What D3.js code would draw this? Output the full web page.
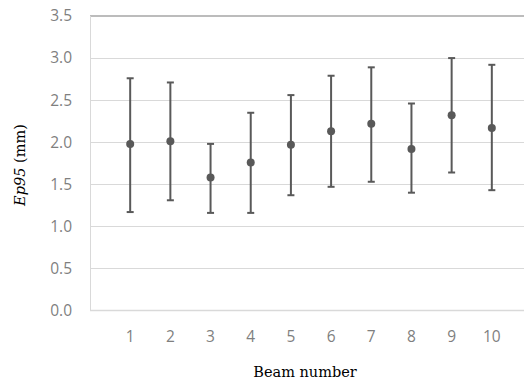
<!DOCTYPE html>
<html>
<head>
<meta charset="utf-8">
<script src="https://cdn.jsdelivr.net/npm/d3@7"></script>
<style>
  body { margin: 0; background: #fff; }
  svg { display: block; }
</style>
</head>
<body>
<div id="chart"></div>
<script>
// beam numbers and Ep95 values (mm)
var beams = [1, 2, 3, 4, 5, 6, 7, 8, 9, 10];
var means = [1.98, 2.01, 1.58, 1.76, 1.97, 2.13, 2.22, 1.92, 2.32, 2.17];
var upper = [2.76, 2.71, 1.98, 2.35, 2.56, 2.79, 2.89, 2.46, 3.00, 2.92];
var lower = [1.17, 1.31, 1.16, 1.16, 1.37, 1.47, 1.53, 1.40, 1.64, 1.43];
var yTicks = [0, 0.5, 1, 1.5, 2, 2.5, 3, 3.5];

var width = 524, height = 383;
var svg = d3.select("#chart").append("svg")
    .attr("width", width)
    .attr("height", height);

// x is a linear scale so that beam 0 sits on the left axis line
var x = d3.scaleLinear().domain([0, 11]).range([90, 532]);
var y = d3.scaleLinear().domain([0, 3.5]).range([310.5, 16]);

// horizontal gridlines
svg.append("g").selectAll("line")
    .data(yTicks.filter(function(d) { return d > 0 && d < 3.5; }))
    .enter().append("line")
    .attr("x1", 90).attr("x2", width)
    .attr("y1", function(d) { return Math.round(y(d)) + 0.5; })
    .attr("y2", function(d) { return Math.round(y(d)) + 0.5; })
    .attr("stroke", "#d9d9d9").attr("stroke-width", 1);

// top border (darker), left and bottom axis lines
svg.append("line")
    .attr("x1", 90).attr("x2", width)
    .attr("y1", y(3.5)).attr("y2", y(3.5))
    .attr("stroke", "#a6a6a6").attr("stroke-width", 1.5);
svg.append("line")
    .attr("x1", 90.5).attr("x2", 90.5)
    .attr("y1", y(3.5)).attr("y2", y(0))
    .attr("stroke", "#d9d9d9").attr("stroke-width", 1);
svg.append("line")
    .attr("x1", 90).attr("x2", width)
    .attr("y1", y(0)).attr("y2", y(0))
    .attr("stroke", "#d9d9d9").attr("stroke-width", 1.5);

// y tick labels
svg.append("g").selectAll("text")
    .data(yTicks).enter().append("text")
    .attr("x", 72)
    .attr("y", function(d) { return y(d); })
    .attr("dy", "0.35em")
    .attr("text-anchor", "end")
    .attr("font-family", "Open Sans, sans-serif")
    .attr("font-size", 15.5)
    .attr("fill", "#7f7f7f")
    .text(function(d) { return d3.format(".1f")(d); });

// x tick labels
svg.append("g").selectAll("text")
    .data(beams).enter().append("text")
    .attr("x", function(d) { return x(d); })
    .attr("y", 337)
    .attr("dy", "0.35em")
    .attr("text-anchor", "middle")
    .attr("font-family", "Open Sans, sans-serif")
    .attr("font-size", 15.5)
    .attr("fill", "#7f7f7f")
    .text(function(d) { return d; });

// error bars
var bars = svg.append("g").selectAll("g")
    .data(beams).enter().append("g");
bars.append("line")
    .attr("x1", function(d) { return x(d); })
    .attr("x2", function(d) { return x(d); })
    .attr("y1", function(d, i) { return y(upper[i]); })
    .attr("y2", function(d, i) { return y(lower[i]); })
    .attr("stroke", "#595959").attr("stroke-width", 2);
bars.append("line")
    .attr("x1", function(d) { return x(d) - 3.5; })
    .attr("x2", function(d) { return x(d) + 3.5; })
    .attr("y1", function(d, i) { return y(upper[i]); })
    .attr("y2", function(d, i) { return y(upper[i]); })
    .attr("stroke", "#595959").attr("stroke-width", 2);
bars.append("line")
    .attr("x1", function(d) { return x(d) - 3.5; })
    .attr("x2", function(d) { return x(d) + 3.5; })
    .attr("y1", function(d, i) { return y(lower[i]); })
    .attr("y2", function(d, i) { return y(lower[i]); })
    .attr("stroke", "#595959").attr("stroke-width", 2);

// mean markers
bars.append("circle")
    .attr("cx", function(d) { return x(d); })
    .attr("cy", function(d, i) { return y(means[i]); })
    .attr("r", 4)
    .attr("fill", "#595959");

// axis titles
var yTitle = svg.append("text")
    .attr("transform", "translate(25,165) rotate(-90)")
    .attr("text-anchor", "middle")
    .attr("font-family", "DejaVu Serif, serif")
    .attr("font-size", 14.5)
    .attr("fill", "#000");
yTitle.append("tspan").attr("font-style", "italic").text("Ep95");
yTitle.append("tspan").text(" (mm)");

svg.append("text")
    .attr("x", 305)
    .attr("y", 377)
    .attr("text-anchor", "middle")
    .attr("font-family", "DejaVu Serif, serif")
    .attr("font-size", 14.5)
    .attr("fill", "#000")
    .text("Beam number");
</script>
</body>
</html>
